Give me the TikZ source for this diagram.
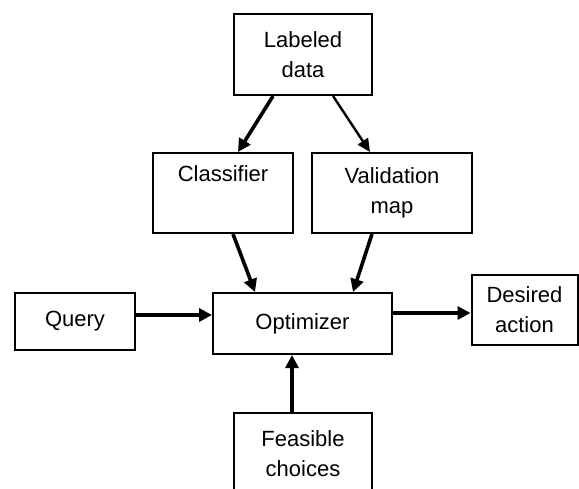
\documentclass[tikz,border=0pt]{standalone}
\usepackage{fontspec}
\setmainfont{Liberation Sans}
\usetikzlibrary{arrows.meta,calc}
\tikzset{
  box/.style={draw=black, line width=1pt, fill=white, align=center, inner sep=0pt,
    font=\fontsize{11}{15}\selectfont},
  conn/.style={line width=1.8pt, -{Triangle[length=6.5pt,width=6.5pt]}},
  thinconn/.style={line width=1.2pt, -{Triangle[length=6.5pt,width=6pt]}}
}
\begin{document}
\begin{tikzpicture}[x=0.5pt,y=-0.5pt]
\useasboundingbox (0,0) rectangle (579,488);
\clip (0,0) rectangle (579,488);
\node[box, minimum width=69pt, minimum height=40.5pt] (labeled) at (303,54.5) {Labeled\\data};
\node[box, minimum width=70pt, minimum height=40pt] (classifier) at (223,193) {Classifier\\[0pt]\strut};
\node[box, minimum width=80pt, minimum height=40pt] (validation) at (392,193) {Validation\\map};
\node[box, minimum width=60pt, minimum height=28.5pt] (query) at (75,321.5) {Query};
\node[box, minimum width=89.5pt, minimum height=30.5pt] (optimizer) at (302.5,323.5) {Optimizer};
\node[box, minimum width=53pt, minimum height=35pt] (desired) at (524.5,310) {Desired\\action};
\node[box, minimum width=69pt, minimum height=40.5pt] (feasible) at (303,453.5) {Feasible\\choices};

\draw[conn] ($(labeled.south)+(-30,0)$) -- ($(classifier.north)+(15,0)$);
\draw[thinconn] ($(labeled.south)+(30,0)$) -- ($(validation.north)+(-22,0)$);
\draw[conn] ($(classifier.south)+(10,0)$) -- ($(optimizer.north)+(-47.5,0)$);
\draw[conn] ($(validation.south)+(-20,0)$) -- ($(optimizer.north)+(50.5,0)$);
\draw[conn] ($(query.east)+(0,-6.5)$) -- ($(optimizer.west)+(0,-8.5)$);
\draw[conn] ($(optimizer.east)+(0,-10.5)$) -- ($(desired.west)+(0,3)$);
\draw[conn] ($(feasible.north)+(-11,0)$) -- ($(optimizer.south)+(-10.5,0)$);
\end{tikzpicture}
\end{document}
